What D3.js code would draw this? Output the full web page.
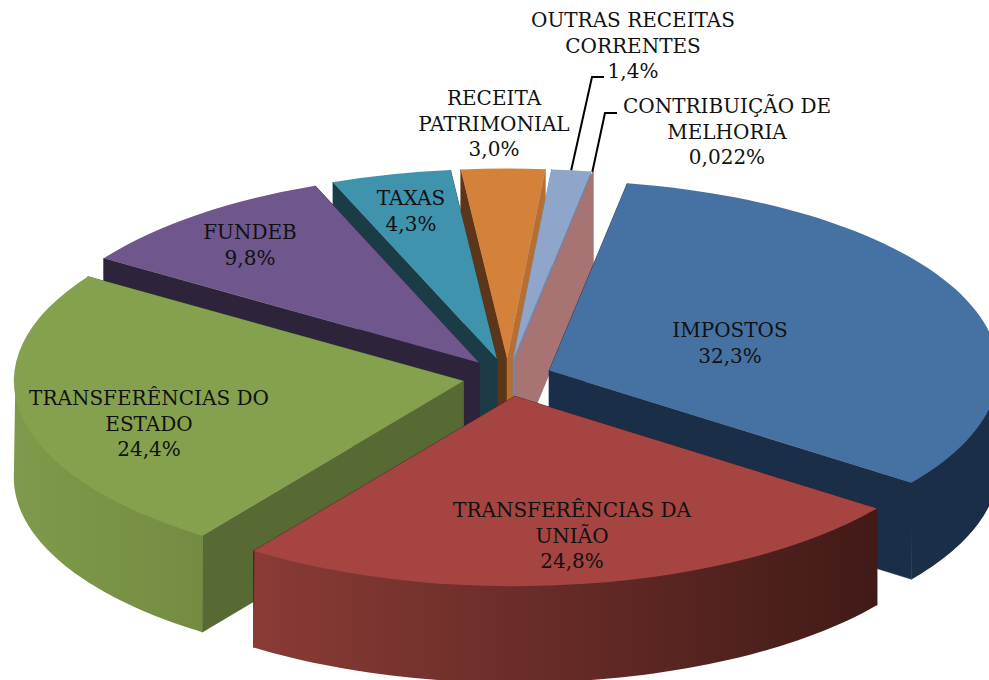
<!DOCTYPE html>
<html><head><meta charset="utf-8">
<script src="https://cdn.jsdelivr.net/npm/d3@7/dist/d3.min.js"></script>
<style>html,body{margin:0;padding:0;background:#fff}svg{display:block}
text{font-family:"DejaVu Serif",serif;fill:#111;text-anchor:middle}</style>
</head><body><svg id="c" width="989" height="680" viewBox="0 0 989 680"></svg>
<script>
// ---- data ----
const labelLines = [["IMPOSTOS"],["TRANSFERÊNCIAS DA","UNIÃO"],["TRANSFERÊNCIAS DO","ESTADO"],["FUNDEB"],["TAXAS"],["RECEITA","PATRIMONIAL"],["OUTRAS RECEITAS","CORRENTES"],["CONTRIBUIÇÃO DE","MELHORIA"]];
const values = [32.3,24.8,24.4,9.8,4.3,3.0,1.4,0.022];
const valueLabels = ["32,3%","24,8%","24,4%","9,8%","4,3%","3,0%","1,4%","0,022%"];
// ---- styles ----
const topFill  = ["#4671a3","#a54441","#85a14d","#6f568c","#3f93ac","#d4813a","#8fa5c9","#a87373"];
const startWall= ["#1b2e47","#431b18","#586a33","#2d233a","#1b3c47","#5d3618","#7189ae","#a87373"];
const endWall  = ["#1b2e47","#431b18","#586a33","#2d233a","#1b3c47","#b56f34","#7189ae","#a87373"];
const rimFrom  = ["#1b2e47","#8a3b36","#7f9a4a","#2d233a","#1b3c47","#5d3618","#7189ae","#a87373"];
const rimTo    = ["#1b2e47","#411a17","#748c42","#2d233a","#1b3c47","#b56f34","#7189ae","#a87373"];
const drawOrder= [5,6,7,0,4,3,2,1];
// ---- layout ----
const W=989,H=680,cx=507.5,cy=377.5,Rx=449.5,Ry=190,depth=96.5,explode=0.1,startDeg=10;
const labelAnchors=[[730,337],[572,517],[149,405],[250,239],[411,205],[494,105],[633,27],[727,113]];
const lineStep=25.5, fontSize=20;

const svg=d3.select("#c");
const defs=svg.append("defs");
const pie=d3.pie().sort(null).value(d=>d).startAngle(startDeg*Math.PI/180).endAngle((startDeg+360)*Math.PI/180);
const arcs=pie(values);
const px=a=>Math.sin(a)*Rx, py=a=>-Math.cos(a)*Ry;
const topArc=d3.arc().innerRadius(0).outerRadius(1);
const lineGen=d3.line();

drawOrder.forEach(i=>{
  const d=arcs[i], mid=(d.startAngle+d.endAngle)/2;
  const ax=cx+explode*px(mid), ay=cy+explode*py(mid);
  const g=svg.append("g");
  const wall=(a,fill)=>{
    const r=[ax+px(a),ay+py(a)];
    g.append("path").attr("fill",fill).attr("stroke",fill).attr("stroke-width",0.6)
     .attr("d",lineGen([[ax,ay],r,[r[0],r[1]+depth],[ax,ay+depth]])+"Z");
  };
  wall(d.startAngle,startWall[i]);
  wall(d.endAngle,endWall[i]);
  // outer wall: only the part of the rim facing the viewer can be seen
  const a0=Math.max(d.startAngle,Math.PI/2), a1=Math.min(d.endAngle,Math.PI*1.5);
  if(a1>a0){
    const samples=d3.range(0,61).map(k=>a0+(a1-a0)*k/60);
    const rim=samples.map(a=>[ax+px(a),ay+py(a)]);
    const id="rim"+i;
    const lg=defs.append("linearGradient").attr("id",id).attr("gradientUnits","userSpaceOnUse")
      .attr("x1",d3.min(rim,p=>p[0])).attr("x2",d3.max(rim,p=>p[0])).attr("y1",0).attr("y2",0);
    lg.append("stop").attr("offset",0).attr("stop-color",rimFrom[i]);
    lg.append("stop").attr("offset",1).attr("stop-color",rimTo[i]);
    // the upper edge tucks inward under the top face so no seam shows
    const tuck=samples.map((a,k)=>[rim[k][0]-1.5*Math.sin(a),rim[k][1]+1.5*Math.cos(a)]);
    g.append("path").attr("fill",`url(#${id})`)
     .attr("d",lineGen(tuck.concat(rim.slice().reverse().map(p=>[p[0],p[1]+depth])))+"Z");
  }
  g.append("path").attr("fill",topFill[i])
   .attr("transform",`translate(${ax},${ay}) scale(${Rx},${Ry})`)
   .attr("d",topArc(d));
});

const rimPoint=(i,a)=>{
  const d=arcs[i], mid=(d.startAngle+d.endAngle)/2;
  return [cx+explode*px(mid)+px(a),cy+explode*py(mid)+py(a)];
};
const leader=(from,elbow,to)=>svg.append("path").attr("fill","none").attr("stroke","#000").attr("stroke-width",2)
  .attr("d",lineGen([from,elbow,to]));
const m6=(arcs[6].startAngle+arcs[6].endAngle)/2;
const p6=rimPoint(6,m6), p7=rimPoint(7,arcs[7].endAngle);
leader(p6,[592,77],[604,77]);
leader([p7[0]-1,p7[1]],[605,113],[617,113]);

labelLines.forEach((lines,i)=>{
  const t=svg.append("text").attr("font-size",fontSize);
  lines.concat(valueLabels[i]).forEach((s,k)=>{
    t.append("tspan").attr("x",labelAnchors[i][0]).attr("y",labelAnchors[i][1]+k*lineStep).text(s);
  });
});
</script></body></html>
